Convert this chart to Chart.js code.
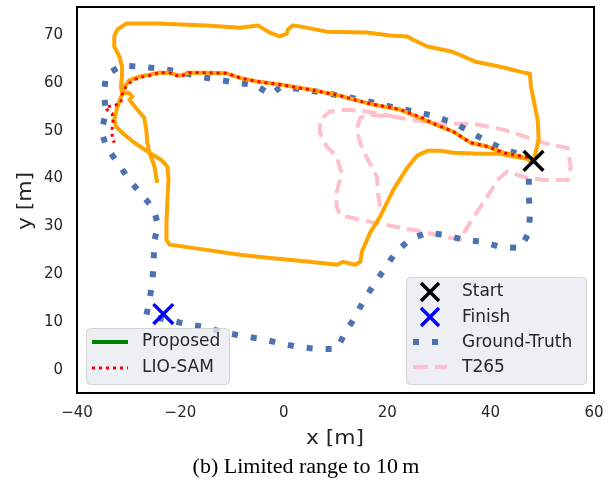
<!DOCTYPE html>
<html>
<head>
<meta charset="utf-8">
<script src="https://cdn.jsdelivr.net/npm/chart.js@4"></script>
<style>
  body { margin: 0; background: #fff; }
  canvas { display: block; }
</style>
</head>
<body>
<canvas id="chart" width="614" height="480"></canvas>
<script>
const xTicks = [-40, -20, 0, 20, 40, 60];
const yTicks = [0, 10, 20, 30, 40, 50, 60, 70];

const startPoint = [48.3, 43.7];
const finishPoint = [-23.3, 11.7];

// orange trajectory (drawn, not listed in legend)
const orangePath = [
  [48.3,43.9],[45.8,44.6],[42.5,45.4],[39.4,46.7],[36.1,47.5],[32.8,49.8],[28.9,51.5],[22.5,54.4],
  [16.7,55.6],[10.9,57.3],[5.0,58.6],[-0.4,59.6],[-5.2,60.3],[-8.0,60.9],[-11.1,62.0],[-15.0,62.1],
  [-18.3,62.1],[-20.2,61.5],[-22.1,62.1],[-24.1,62.1],[-28.0,61.3],[-29.9,60.5],[-30.9,59.0],[-31.3,57.5],
  [-32.2,55.0],[-32.8,52.3],[-32.4,50.8],[-31.3,49.6],[-28.9,47.5],[-26.0,45.4],[-23.7,43.9],[-22.5,42.5],
  [-22.3,39.7],[-22.5,35.6],[-22.7,30.8],[-22.7,27.2],[-22.1,26.2],[-15.0,25.1],[-8.5,24.1],[-2.7,23.4],
  [5.0,22.6],[10.3,22.0],[11.5,22.6],[13.8,22.0],[14.8,22.6],[15.1,24.7],[16.7,28.7],[18.6,32.0],
  [21.2,37.7],[23.9,42.3],[25.8,44.8],[27.8,45.8],[30.3,45.8],[32.8,45.4],[38.1,45.2],[41.9,45.2],
  [44.5,44.6],[48.3,43.9],[48.7,45.4],[49.3,48.1],[49.1,52.3],[48.3,56.5],[47.8,59.2],[47.6,61.9],
  [45.8,62.3],[43.3,63.0],[40.0,63.8],[37.1,64.4],[34.8,65.5],[32.6,66.5],[27.8,67.6],[25.0,69.0],
  [23.9,69.7],[20.6,69.9],[16.1,70.5],[8.3,70.7],[3.1,71.8],[1.7,72.0],[0.8,71.1],[0.6,70.3],
  [-0.8,69.7],[-2.7,70.5],[-5.0,72.0],[-8.5,71.5],[-15.0,72.0],[-24.7,72.4],[-30.5,72.4],[-32.2,71.1],
  [-32.8,69.7],[-32.8,67.6],[-31.8,65.5],[-31.3,63.4],[-31.3,61.3],[-31.5,59.2],[-31.3,57.9],[-29.9,57.9],
  [-29.3,57.1],[-29.9,56.5],[-28.5,54.6],[-27.0,52.7],[-26.6,50.2],[-26.4,47.5],[-26.0,45.4],[-25.0,42.5],
  [-24.5,39.1]
];

const lioSamPath = [
  [47.2,44.4],[42.5,45.4],[39.4,46.7],[36.1,47.5],[32.8,49.8],[28.9,51.5],[26.4,52.9],[22.5,54.4],
  [20.0,55.0],[16.7,55.6],[14.2,56.3],[10.9,57.3],[8.3,57.9],[5.0,58.6],[2.5,59.0],[-0.4,59.6],
  [-3.3,60.0],[-5.2,60.3],[-8.0,60.9],[-11.1,62.0],[-15.0,62.1],[-18.3,62.1],[-19.6,61.5],[-20.8,61.5],
  [-22.1,62.1],[-24.1,62.1],[-26.0,61.5],[-28.0,61.1],[-29.5,60.3],[-30.5,59.2],[-31.3,57.5],[-31.5,55.9],
  [-32.8,55.2],[-34.4,55.0],[-34.2,54.4],[-33.2,53.6],[-33.0,52.3],[-33.2,51.0],[-33.2,48.7],[-32.8,47.5]
];

const groundTruthPath = [
  [48.3,43.7],[45.8,45.0],[41.9,46.4],[38.1,48.5],[33.2,51.5],[28.3,53.3],[21.6,54.8],[14.8,56.5],
  [8.0,57.9],[2.5,58.8],[-0.8,59.0],[-2.5,57.5],[-5.6,59.6],[-9.1,60.0],[-13.0,60.7],[-16.3,61.3],
  [-20.2,62.3],[-24.1,63.0],[-28.0,63.4],[-31.3,63.6],[-34.4,61.7],[-34.8,57.7],[-34.4,53.8],[-35.3,49.8],
  [-34.2,46.4],[-32.0,43.1],[-29.9,39.7],[-27.6,36.8],[-25.2,33.7],[-24.3,30.3],[-25.0,27.2],[-25.2,22.4],
  [-25.4,18.4],[-26.0,14.6],[-26.6,11.3],[-22.5,10.5],[-18.8,9.6],[-15.3,9.0],[-11.8,7.9],[-8.0,7.1],
  [-4.3,6.5],[-0.8,5.6],[2.9,4.8],[6.6,4.4],[10.3,4.4],[11.8,7.7],[13.8,11.1],[15.5,14.6],
  [17.5,18.0],[19.6,21.3],[21.7,24.7],[24.5,27.4],[27.8,28.7],[31.3,28.2],[34.8,27.2],[38.4,26.8],
  [41.9,25.7],[45.8,25.5],[47.4,28.7],[47.6,32.4],[47.4,36.6],[47.4,40.6]
];

const t265Path = [
  [18.6,34.1],[18.3,36.3],[18.0,40.4],[16.1,44.3],[14.8,47.4],[14.1,50.2],[14.8,52.7],[16.7,53.3],
  [20.6,53.0],[27.0,51.9],[30.9,51.3],[34.2,51.5],[37.4,51.3],[42.6,50.2],[46.5,48.8],[50.4,47.4],
  [54.9,46.4],[55.5,42.5],[54.9,39.7],[50.4,39.7],[46.5,40.3],[43.2,41.5],[41.3,39.7],[39.4,36.3],
  [36.8,32.1],[34.8,28.6],[34.5,27.2],[30.9,27.9],[27.0,28.9],[23.2,29.6],[18.0,30.7],[13.5,31.7],
  [10.9,32.4],[10.2,34.2],[10.2,37.0],[11.2,41.1],[10.2,44.6],[8.3,46.7],[7.0,49.5],[7.0,52.3],
  [8.9,54.0],[12.2,54.4],[16.1,54.0],[21.2,53.0]
];

const leftLegend = ['Proposed', 'LIO-SAM'];
const rightLegend = ['Start', 'Finish', 'Ground-Truth', 'T265'];

const textColor = '#262626';
const tickFont = { family: 'DejaVu Sans', size: 15 };

const toXY = arr => arr.map(p => ({ x: p[0], y: p[1] }));

function lineSet(label, path, color, width, dash, order) {
  return {
    label, data: toXY(path), showLine: true, pointRadius: 0,
    borderColor: color, backgroundColor: color, borderWidth: width,
    borderDash: dash, borderJoinStyle: 'round', order
  };
}

function markerSet(label, point, color, order) {
  return {
    label, data: toXY([point]), showLine: false, pointStyle: 'crossRot',
    pointRadius: 14, borderWidth: 3.5, borderColor: color, backgroundColor: color, order
  };
}

const drawCross = (ctx, cx, cy, h, color) => {
  ctx.save();
  ctx.strokeStyle = color;
  ctx.lineWidth = 3.5;
  ctx.beginPath();
  ctx.moveTo(cx - h, cy - h); ctx.lineTo(cx + h, cy + h);
  ctx.moveTo(cx - h, cy + h); ctx.lineTo(cx + h, cy - h);
  ctx.stroke();
  ctx.restore();
};

const drawSample = (ctx, x0, x1, y, color, width, dash) => {
  ctx.save();
  ctx.strokeStyle = color;
  ctx.lineWidth = width;
  ctx.setLineDash(dash);
  ctx.beginPath();
  ctx.moveTo(x0, y); ctx.lineTo(x1, y);
  ctx.stroke();
  ctx.restore();
};

const legendBox = (ctx, x, y, w, h) => {
  ctx.save();
  ctx.fillStyle = 'rgba(234,234,242,0.8)';
  ctx.strokeStyle = 'rgba(204,204,204,0.8)';
  ctx.lineWidth = 1;
  ctx.beginPath();
  ctx.roundRect(x + 0.5, y + 0.5, w, h, 4);
  ctx.fill();
  ctx.stroke();
  ctx.restore();
};

const stretchedText = (ctx, text, x, y, font, sx, rot) => {
  ctx.save();
  ctx.translate(x, y);
  if (rot) ctx.rotate(rot);
  ctx.scale(sx, 1);
  ctx.font = font;
  ctx.fillStyle = textColor;
  ctx.textAlign = 'center';
  ctx.textBaseline = 'middle';
  ctx.fillText(text, 0, 0);
  ctx.restore();
};

const decorPlugin = {
  id: 'decor',
  afterDraw(chart) {
    const { ctx, chartArea: a } = chart;
    // axes frame
    ctx.save();
    ctx.strokeStyle = '#000';
    ctx.lineWidth = 2;
    ctx.strokeRect(a.left, a.top, a.right - a.left, a.bottom - a.top);
    ctx.restore();

    // left legend
    legendBox(ctx, 86, 328, 143, 56);
    drawSample(ctx, 92, 128, 342, 'green', 4, []);
    drawSample(ctx, 92, 128, 368, 'red', 3, [3, 4]);
    ctx.save();
    ctx.font = '17px "DejaVu Sans"';
    ctx.fillStyle = textColor;
    ctx.textBaseline = 'middle';
    leftLegend.forEach((t, i) => ctx.fillText(t, 142, 342 + i * 26));
    ctx.restore();

    // right legend
    legendBox(ctx, 406, 277, 180, 107);
    drawCross(ctx, 430, 292, 9, '#000');
    drawCross(ctx, 430, 317, 9, 'blue');
    drawSample(ctx, 413, 447, 342, '#4c72b0', 6, [6, 13]);
    drawSample(ctx, 413, 447, 367, 'pink', 4, [15, 7]);
    ctx.save();
    ctx.font = '17px "DejaVu Sans"';
    ctx.fillStyle = textColor;
    ctx.textBaseline = 'middle';
    rightLegend.forEach((t, i) => ctx.fillText(t, 462, 292 + i * 25.2));
    ctx.restore();

    // axis titles and caption
    stretchedText(ctx, 'x [m]', 335, 439, '19px "DejaVu Sans"', 1.15, 0);
    stretchedText(ctx, 'y [m]', 26, 201, '19px "DejaVu Sans"', 1.15, -Math.PI / 2);
    ctx.save();
    ctx.translate(306, 473);
    ctx.scale(1.1, 1);
    ctx.font = '20px "Liberation Serif"';
    ctx.fillStyle = '#000';
    ctx.textAlign = 'center';
    ctx.textBaseline = 'alphabetic';
    ctx.fillText('(b) Limited range to 10\u2009m', 0, 0);
    ctx.restore();
  }
};

new Chart(document.getElementById('chart'), {
  type: 'scatter',
  data: {
    datasets: [
      markerSet('Start', startPoint, '#000', 0),
      markerSet('Finish', finishPoint, 'blue', 0),
      lineSet('LIO-SAM', lioSamPath, 'red', 3, [3, 4], 1),
      lineSet('_nolegend_', orangePath, 'orange', 4, [], 2),
      lineSet('Ground-Truth', groundTruthPath, '#4c72b0', 6, [6, 13], 3),
      lineSet('T265', t265Path, 'pink', 4, [14, 7], 4)
    ]
  },
  options: {
    responsive: false,
    animation: false,
    devicePixelRatio: 1,
    layout: { autoPadding: false, padding: { left: 0, right: 20, top: 7, bottom: 0 } },
    plugins: { legend: { display: false }, tooltip: { enabled: false } },
    scales: {
      x: {
        type: 'linear', min: -40, max: 60,
        grid: { display: false, drawTicks: false },
        border: { display: false },
        ticks: {
          padding: 11, font: tickFont, color: textColor, autoSkip: false, maxRotation: 0,
          callback: v => (v < 0 ? '\u2212' + Math.abs(v) : String(v))
        },
        afterBuildTicks: s => { s.ticks = xTicks.map(v => ({ value: v })); },
        afterFit: s => { s.height = 87; s.paddingLeft = 0; s.paddingRight = 0; }
      },
      y: {
        type: 'linear', min: -4.8, max: 75.85,
        grid: { display: false, drawTicks: false },
        border: { display: false },
        ticks: { padding: 14, font: tickFont, color: textColor, autoSkip: false },
        afterBuildTicks: s => { s.ticks = yTicks.map(v => ({ value: v })); },
        afterFit: s => { s.width = 77; s.paddingTop = 0; s.paddingBottom = 0; }
      }
    }
  },
  plugins: [decorPlugin]
});
</script>
</body>
</html>
